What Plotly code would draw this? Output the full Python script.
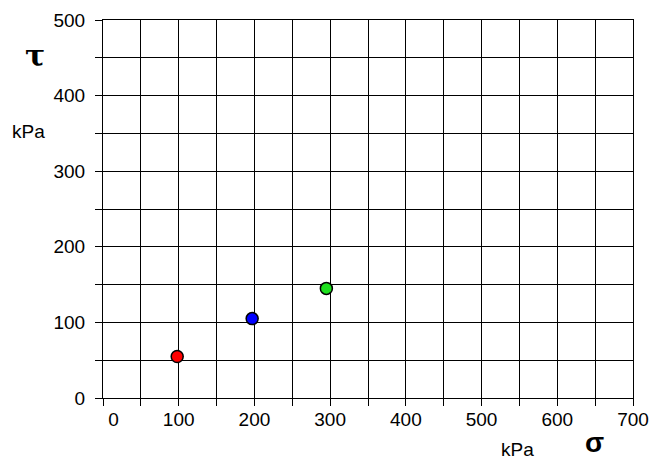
import plotly.graph_objects as go

sigma = [98, 197, 295]
tau = [55, 105, 145]
colors = ["#ff0000", "#0000ff", "#1ee01e"]

x_ticks = [0, 100, 200, 300, 400, 500, 600, 700]
x_ticktext = ["\u00a0\u00a0\u00a0\u00a00", "100", "200", "300", "400", "500", "600", "700"]
y_ticks = [0, 100, 200, 300, 400, 500]

fig = go.Figure()
fig.add_trace(go.Scatter(
    x=sigma, y=tau, mode="markers",
    marker=dict(size=12, color=colors, line=dict(color="black", width=1.5)),
    showlegend=False, cliponaxis=False,
))

font = dict(family="Liberation Sans, Arial, sans-serif", size=19, color="black")

common = dict(
    automargin=False,
    showgrid=True, gridcolor="black", gridwidth=1, zeroline=False,
    showline=True, linecolor="black", linewidth=1, mirror=True,
    ticks="outside", ticklen=7, tickcolor="black", tickfont=font,
    minor=dict(dtick=50, tick0=0, showgrid=True, gridcolor="black", gridwidth=1,
               ticks="outside", ticklen=7, tickcolor="black"),
)
fig.update_xaxes(range=[0, 700], tickvals=x_ticks, ticktext=x_ticktext,
                 ticklabelstandoff=-3, **common)
fig.update_yaxes(range=[0, 500], tickvals=y_ticks, ticklabelstandoff=6, **common)

ann = dict(xref="paper", yref="paper", showarrow=False, xanchor="center", yanchor="middle")
fig.add_annotation(text="<b>τ</b>", x=-0.128, y=0.905,
                   font=dict(family="DejaVu Serif, serif", size=30, color="black"), **ann)
fig.add_annotation(text="kPa", x=-0.1406, y=0.706, font=font, **ann)
fig.add_annotation(text="kPa", x=0.783, y=-0.135, font=font, **ann)
fig.add_annotation(text="<b>σ</b>", x=0.928, y=-0.1376, yshift=8,
                   font=dict(family="Liberation Sans, Arial, sans-serif", size=28, color="black"), **ann)

fig.update_layout(
    width=649, height=459, autosize=False,
    margin=dict(l=103, r=16, t=20, b=61),
    plot_bgcolor="white", paper_bgcolor="white",
)

fig.write_html("out.html")
